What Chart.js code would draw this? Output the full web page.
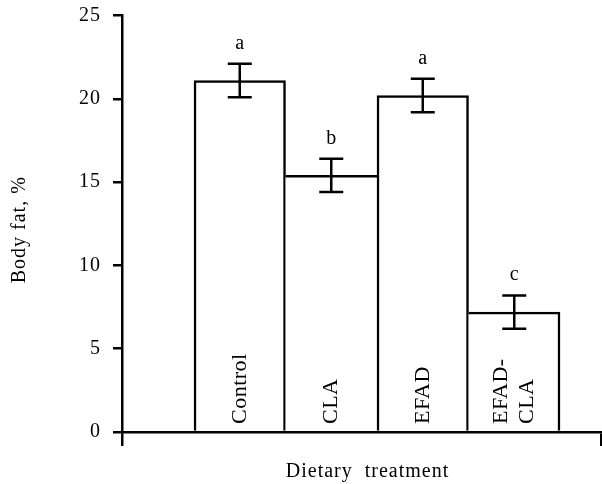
<!DOCTYPE html>
<html><head><meta charset="utf-8">
<script src="https://cdn.jsdelivr.net/npm/chart.js@4"></script>
<style>html,body{margin:0;padding:0;background:#fff}#wrap{width:602px;height:484px}</style>
</head><body><div id="wrap"><canvas id="c" width="602" height="484"></canvas></div>
<script>
const categories = ['Control', 'CLA', 'EFAD', 'EFAD-CLA'];
const bodyFat = [21.1, 15.4, 20.2, 7.2];
const stdErr = [1.0, 1.0, 1.0, 1.0];
const sigLetters = ['a', 'b', 'a', 'c'];
const yTickStep = 5;
const yMin = 0, yMax = 25;
const xAxisTitle = '  Dietary  treatment';
const yAxisTitle = 'Body fat, %  ';

const FONT = '"Liberation Serif", "Times New Roman", serif';
Chart.defaults.font.family = FONT;
Chart.defaults.color = '#000';

const annot = {
  id: 'annot',
  beforeUpdate(chart) { chart.ctx.letterSpacing = '1px'; },
  beforeDraw(chart) { chart.ctx.letterSpacing = '1px'; },
  afterDatasetsDraw(chart) {
    const ctx = chart.ctx, xs = chart.scales.x, ys = chart.scales.y;
    ctx.save();
    ctx.strokeStyle = '#000';
    ctx.fillStyle = '#000';
    ctx.lineWidth = 2.5;
    ctx.lineCap = 'butt';
    bodyFat.forEach((v, i) => {
      const x = xs.getPixelForValue(i);
      const yt = ys.getPixelForValue(v + stdErr[i]);
      const yb = ys.getPixelForValue(v - stdErr[i]);
      ctx.beginPath();
      ctx.moveTo(x, yt); ctx.lineTo(x, yb);
      ctx.moveTo(x - 12, yt); ctx.lineTo(x + 12, yt);
      ctx.moveTo(x - 12, yb); ctx.lineTo(x + 12, yb);
      ctx.stroke();
      ctx.font = '20px ' + FONT;
      ctx.letterSpacing = '0px';
      ctx.textAlign = 'center';
      ctx.textBaseline = 'alphabetic';
      ctx.fillText(sigLetters[i], x, yt - 15);
      const lines = categories[i].replace('-', '-\n').split('\n');
      ctx.save();
      ctx.translate(x, ys.getPixelForValue(0) - 8);
      ctx.rotate(-Math.PI / 2);
      ctx.font = '22px ' + FONT;
      ctx.letterSpacing = '0.5px';
      ctx.textAlign = 'left';
      ctx.textBaseline = 'middle';
      lines.forEach((ln, k) => {
        const off = (k - (lines.length - 1) / 2) * 26;
        ctx.fillText(ln, 0, off);
      });
      ctx.restore();
    });
    ctx.restore();
  }
};

new Chart(document.getElementById('c'), {
  type: 'bar',
  data: {
    datasets: [{
      data: bodyFat.map((v, i) => ({ x: i, y: v })),
      backgroundColor: '#fff',
      borderColor: '#000',
      borderSkipped: 'start',
      borderWidth: c => {
        const i = c.dataIndex, v = bodyFat[i], w = 2.5;
        return {
          top: w, bottom: 0,
          left: (i === 0 || bodyFat[i - 1] < v) ? w : 0,
          right: (i === bodyFat.length - 1 || bodyFat[i + 1] <= v) ? w : 0
        };
      },
      categoryPercentage: 1,
      barPercentage: 1
    }]
  },
  options: {
    responsive: false,
    animation: false,
    devicePixelRatio: 1,
    layout: { padding: { top: 15.5, right: 1, bottom: 0, left: 0 } },
    plugins: { legend: { display: false }, tooltip: { enabled: false } },
    scales: {
      x: {
        type: 'linear',
        min: -1.287, max: 3.948,
        offset: false,
        afterBuildTicks(s) { s.ticks = [{ value: s.min }, { value: s.max }]; },
        afterFit(s) { s.height = 52; s.paddingLeft = 0; s.paddingRight = 0; },
        ticks: { display: false },
        grid: { display: true, offset: false, drawOnChartArea: false, drawTicks: true, tickLength: 14, color: '#000', lineWidth: 2.5 },
        border: { display: true, color: '#000', width: 2.5 },
        title: { display: true, text: xAxisTitle, color: '#000', font: { size: 20 }, padding: { top: 14, bottom: 0 } }
      },
      y: {
        min: yMin, max: yMax,
        afterFit(s) { s.width = 122; s.paddingTop = 0; s.paddingBottom = 0; },
        ticks: { stepSize: yTickStep, padding: 12, color: '#000', font: { size: 20 } },
        grid: { display: true, drawOnChartArea: false, drawTicks: true, tickLength: 9, color: '#000', lineWidth: 2.5 },
        border: { display: true, color: '#000', width: 2.5 },
        title: { display: true, text: yAxisTitle, color: '#000', font: { size: 20 }, padding: { top: 8, bottom: 0 } }
      }
    }
  },
  plugins: [annot]
});
</script>
</body></html>
